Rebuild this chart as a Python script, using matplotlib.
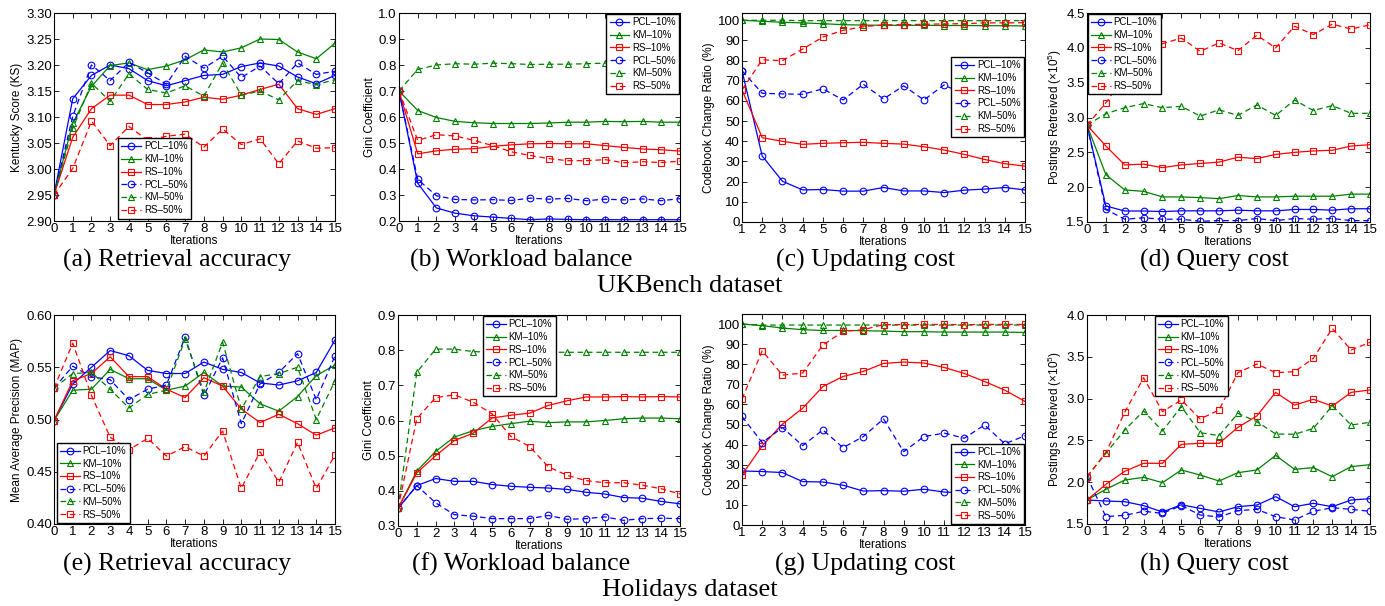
import matplotlib
matplotlib.use("Agg")
import matplotlib.pyplot as plt
import numpy as np
from matplotlib.ticker import FormatStrFormatter

plt.rcParams['font.family'] = ['Liberation Sans', 'DejaVu Sans']
plt.rcParams['mathtext.fontset'] = 'custom'
plt.rcParams['mathtext.rm'] = 'Liberation Sans'

# ---------------- data ----------------
iters = list(range(16))
iters_upd = list(range(1, 16))
series_names = ['PCL–10%', 'KM–10%', 'RS–10%', 'PCL–50%', 'KM–50%', 'RS–50%']

# (a) UKBench retrieval accuracy (Kentucky score)
a_pcl10 = [2.95, 3.135, 3.18, 3.20, 3.193, 3.17, 3.16, 3.17, 3.18, 3.182, 3.197, 3.204, 3.198, 3.177, 3.164, 3.18]
a_km10 = [2.95, 3.088, 3.159, 3.199, 3.204, 3.191, 3.198, 3.21, 3.229, 3.225, 3.233, 3.25, 3.249, 3.225, 3.212, 3.242]
a_rs10 = [2.95, 3.061, 3.116, 3.142, 3.142, 3.124, 3.124, 3.129, 3.138, 3.134, 3.142, 3.153, 3.163, 3.116, 3.105, 3.116]
a_pcl50 = [2.95, 3.101, 3.20, 3.17, 3.205, 3.185, 3.163, 3.217, 3.194, 3.217, 3.176, 3.198, 3.164, 3.204, 3.182, 3.188]
a_km50 = [2.95, 3.078, 3.165, 3.13, 3.183, 3.153, 3.146, 3.16, 3.14, 3.204, 3.142, 3.15, 3.133, 3.17, 3.162, 3.172]
a_rs50 = [2.95, 3.001, 3.092, 3.045, 3.082, 3.055, 3.063, 3.067, 3.042, 3.077, 3.047, 3.058, 3.01, 3.054, 3.04, 3.041]

# (b) UKBench workload balance (Gini)
b_pcl10 = [0.70, 0.345, 0.25, 0.23, 0.22, 0.215, 0.21, 0.205, 0.208, 0.206, 0.205, 0.205, 0.205, 0.205, 0.205, 0.205]
b_km10 = [0.70, 0.625, 0.598, 0.583, 0.578, 0.575, 0.575, 0.575, 0.577, 0.58, 0.58, 0.583, 0.582, 0.583, 0.58, 0.58]
b_rs10 = [0.70, 0.458, 0.47, 0.476, 0.478, 0.487, 0.493, 0.497, 0.498, 0.497, 0.497, 0.49, 0.483, 0.477, 0.474, 0.469]
b_pcl50 = [0.70, 0.36, 0.297, 0.283, 0.281, 0.282, 0.279, 0.288, 0.284, 0.287, 0.278, 0.284, 0.281, 0.285, 0.278, 0.286]
b_km50 = [0.70, 0.783, 0.80, 0.805, 0.803, 0.807, 0.805, 0.802, 0.803, 0.803, 0.805, 0.807, 0.806, 0.806, 0.805, 0.803]
b_rs50 = [0.70, 0.51, 0.532, 0.527, 0.51, 0.49, 0.466, 0.452, 0.44, 0.432, 0.432, 0.436, 0.424, 0.428, 0.425, 0.43]

# (c) UKBench updating cost (%), iterations 1..15
c_pcl10 = [75, 32.7, 20.2, 15.9, 16.1, 15.3, 15.3, 17.1, 15.4, 15.4, 14.6, 15.8, 16.3, 17.1, 15.9]
c_km10 = [100, 99.5, 99.0, 98.7, 98.3, 97.8, 97.6, 97.5, 97.5, 97.5, 97.4, 97.4, 97.3, 97.3, 97.2]
c_rs10 = [65.5, 41.8, 40.0, 38.5, 39.0, 39.3, 39.5, 39.0, 38.6, 37.3, 35.7, 33.5, 31.0, 28.9, 27.7]
c_pcl50 = [75, 63.8, 63.5, 63.3, 66.0, 60.5, 68.3, 61.0, 67.5, 60.5, 68.0, 63.0, 67.0, 62.0, 67.7]
c_km50 = [100, 100, 100, 99.8, 99.8, 99.8, 99.8, 99.8, 99.8, 99.8, 99.8, 99.8, 99.8, 99.8, 99.8]
c_rs50 = [65.5, 80.4, 80.0, 85.7, 91.7, 95.0, 96.8, 97.7, 97.8, 98.0, 98.2, 98.3, 98.7, 98.7, 98.8]

# (d) UKBench query cost (x1e5 postings)
d_pcl10 = [2.89, 1.73, 1.658, 1.658, 1.65, 1.66, 1.66, 1.66, 1.67, 1.66, 1.66, 1.68, 1.68, 1.67, 1.69, 1.69]
d_km10 = [2.89, 2.18, 1.96, 1.94, 1.86, 1.86, 1.85, 1.835, 1.88, 1.86, 1.86, 1.87, 1.87, 1.87, 1.90, 1.90]
d_rs10 = [2.89, 2.59, 2.32, 2.33, 2.28, 2.32, 2.34, 2.36, 2.43, 2.41, 2.47, 2.50, 2.52, 2.53, 2.59, 2.61]
d_pcl50 = [2.89, 1.68, 1.54, 1.56, 1.54, 1.54, 1.51, 1.52, 1.52, 1.55, 1.52, 1.55, 1.54, 1.55, 1.52, 1.52]
d_km50 = [2.89, 3.055, 3.14, 3.20, 3.14, 3.16, 3.02, 3.11, 3.03, 3.18, 3.03, 3.25, 3.10, 3.17, 3.06, 3.06]
d_rs50 = [2.89, 3.21, 3.60, 3.95, 4.06, 4.14, 3.95, 4.07, 3.96, 4.18, 4.00, 4.31, 4.19, 4.34, 4.27, 4.33]

# (e) Holidays retrieval accuracy (MAP)
e_pcl10 = [0.499, 0.534, 0.550, 0.566, 0.561, 0.547, 0.544, 0.544, 0.555, 0.548, 0.545, 0.535, 0.533, 0.537, 0.545, 0.576]
e_km10 = [0.499, 0.528, 0.529, 0.548, 0.539, 0.539, 0.528, 0.532, 0.545, 0.532, 0.531, 0.515, 0.508, 0.522, 0.542, 0.552]
e_rs10 = [0.499, 0.537, 0.544, 0.560, 0.541, 0.541, 0.529, 0.521, 0.540, 0.532, 0.510, 0.497, 0.505, 0.496, 0.485, 0.492]
e_pcl50 = [0.530, 0.551, 0.541, 0.538, 0.519, 0.529, 0.533, 0.579, 0.523, 0.559, 0.496, 0.534, 0.545, 0.563, 0.519, 0.561]
e_km50 = [0.530, 0.544, 0.545, 0.529, 0.511, 0.524, 0.528, 0.577, 0.526, 0.574, 0.510, 0.541, 0.544, 0.550, 0.500, 0.537]
e_rs50 = [0.530, 0.573, 0.523, 0.483, 0.471, 0.482, 0.465, 0.474, 0.465, 0.489, 0.434, 0.469, 0.440, 0.478, 0.434, 0.466]

# (f) Holidays workload balance (Gini)
f_pcl10 = [0.35, 0.415, 0.435, 0.427, 0.427, 0.418, 0.413, 0.410, 0.408, 0.404, 0.396, 0.391, 0.381, 0.379, 0.370, 0.363]
f_km10 = [0.35, 0.456, 0.512, 0.553, 0.571, 0.583, 0.591, 0.598, 0.594, 0.596, 0.596, 0.600, 0.605, 0.607, 0.607, 0.605]
f_rs10 = [0.35, 0.451, 0.500, 0.543, 0.564, 0.607, 0.615, 0.621, 0.643, 0.656, 0.667, 0.667, 0.668, 0.667, 0.668, 0.667]
f_pcl50 = [0.35, 0.415, 0.366, 0.332, 0.328, 0.321, 0.321, 0.321, 0.330, 0.319, 0.321, 0.326, 0.316, 0.321, 0.322, 0.321]
f_km50 = [0.35, 0.737, 0.803, 0.803, 0.796, 0.794, 0.794, 0.794, 0.794, 0.794, 0.794, 0.794, 0.794, 0.794, 0.794, 0.794]
f_rs50 = [0.35, 0.605, 0.665, 0.673, 0.652, 0.619, 0.555, 0.526, 0.468, 0.444, 0.429, 0.423, 0.423, 0.416, 0.406, 0.391]

# (g) Holidays updating cost (%), iterations 1..15
g_pcl10 = [26.9, 26.6, 26.1, 21.6, 21.4, 19.8, 16.9, 17.1, 16.8, 17.8, 16.4, 16.0, 16.5, 16.0, 15.4]
g_km10 = [100, 99.2, 98.0, 97.2, 96.8, 96.8, 96.7, 96.5, 96.2, 96.2, 96.0, 96.0, 96.0, 96.0, 95.8]
g_rs10 = [24.9, 39.4, 50.2, 58.1, 68.9, 73.9, 76.4, 80.4, 81.1, 80.6, 78.4, 75.4, 71.4, 67.1, 61.5]
g_pcl50 = [54.0, 41.0, 48.5, 39.5, 47.3, 38.5, 44.0, 52.8, 36.5, 44.0, 45.7, 43.2, 49.8, 40.4, 44.4]
g_km50 = [100, 99.5, 99.5, 99.5, 99.5, 99.5, 99.5, 99.5, 99.5, 99.5, 99.5, 99.5, 99.5, 99.5, 99.5]
g_rs50 = [62.6, 86.7, 74.6, 75.6, 89.5, 96.3, 97.2, 99.7, 99.7, 99.8, 99.8, 99.7, 99.8, 99.8, 99.8]

# (h) Holidays query cost (x1e5 postings)
h_pcl10 = [1.787, 1.775, 1.767, 1.72, 1.644, 1.73, 1.687, 1.644, 1.707, 1.727, 1.827, 1.707, 1.747, 1.707, 1.787, 1.803]
h_km10 = [1.787, 1.915, 2.026, 2.058, 1.994, 2.146, 2.086, 2.014, 2.114, 2.146, 2.321, 2.154, 2.174, 2.066, 2.186, 2.21]
h_rs10 = [1.787, 1.974, 2.13, 2.226, 2.226, 2.453, 2.465, 2.465, 2.656, 2.792, 3.075, 2.923, 2.991, 2.911, 3.075, 3.103]
h_pcl50 = [2.066, 1.588, 1.604, 1.652, 1.628, 1.72, 1.608, 1.584, 1.66, 1.675, 1.588, 1.548, 1.652, 1.695, 1.675, 1.652]
h_km50 = [2.066, 2.345, 2.624, 2.852, 2.612, 2.904, 2.592, 2.557, 2.824, 2.724, 2.577, 2.573, 2.644, 2.915, 2.684, 2.716]
h_rs50 = [2.066, 2.353, 2.836, 3.25, 2.844, 2.983, 2.756, 2.864, 3.31, 3.414, 3.31, 3.322, 3.482, 3.84, 3.581, 3.673]

captions = ['(a) Retrieval accuracy', '(b) Workload balance', '(c) Updating cost', '(d) Query cost',
            '(e) Retrieval accuracy', '(f) Workload balance', '(g) Updating cost', '(h) Query cost']
row_titles = ['UKBench dataset', 'Holidays dataset']
ylab_ks = 'Kentucky Score (KS)'
ylab_gini = 'Gini Coefficient'
ylab_upd = 'Codebook Change Ratio (%)'
ylab_post = r'Postings Retreived ($\mathregular{\times 10^5}$)'
ylab_map = 'Mean Average Precision (MAP)'

# ---------------- style ----------------
colors = ['#0000ff', '#008000', '#ff0000', '#0000ff', '#008000', '#ff0000']
markers = ['o', '^', 's', 'o', '^', 's']
styles = ['-', '-', '-', (0, (4.5, 3)), (0, (4.5, 3)), (0, (4.5, 3))]

W, H = 1385, 606
fig = plt.figure(figsize=(W / 100, H / 100), dpi=100)

def rect(x0, x1, y0, y1):
    return [x0 / W, 1 - y1 / H, (x1 - x0) / W, (y1 - y0) / H]

panels = [
    dict(r=rect(54, 335, 13, 221), x=iters, data=[a_pcl10, a_km10, a_rs10, a_pcl50, a_km50, a_rs50],
         ylim=(2.90, 3.30), yt=np.arange(2.90, 3.301, 0.05), fmt='%.2f', xlim=(0, 15), ylabel=ylab_ks,
         leg=dict(loc='lower left', bbox_to_anchor=(0.228, 0.012))),
    dict(r=rect(399, 680, 13, 221), x=iters, data=[b_pcl10, b_km10, b_rs10, b_pcl50, b_km50, b_rs50],
         ylim=(0.2, 1.0), yt=np.arange(0.2, 1.001, 0.1), fmt='%.1f', xlim=(0, 15), ylabel=ylab_gini,
         leg=dict(loc='upper right', bbox_to_anchor=(0.997, 0.995))),
    dict(r=rect(742, 1025, 13, 222), x=iters_upd, data=[c_pcl10, c_km10, c_rs10, c_pcl50, c_km50, c_rs50],
         ylim=(0, 103.6), yt=np.arange(0, 101, 10), fmt='%d', xlim=(1, 15), ylabel=ylab_upd,
         leg=dict(loc='upper right', bbox_to_anchor=(0.997, 0.79))),
    dict(r=rect(1087, 1370, 13, 222), x=iters, data=[d_pcl10, d_km10, d_rs10, d_pcl50, d_km50, d_rs50],
         ylim=(1.5, 4.5), yt=np.arange(1.5, 4.501, 0.5), fmt='%.1f', xlim=(0, 15), ylabel=ylab_post,
         leg=dict(loc='upper left', bbox_to_anchor=(0.003, 0.995))),
    dict(r=rect(54, 335, 315, 524), x=iters, data=[e_pcl10, e_km10, e_rs10, e_pcl50, e_km50, e_rs50],
         ylim=(0.40, 0.60), yt=np.arange(0.40, 0.601, 0.05), fmt='%.2f', xlim=(0, 15), ylabel=ylab_map,
         leg=dict(loc='lower left', bbox_to_anchor=(0.01, 0.005))),
    dict(r=rect(398, 680, 315, 526), x=iters, data=[f_pcl10, f_km10, f_rs10, f_pcl50, f_km50, f_rs50],
         ylim=(0.3, 0.9), yt=np.arange(0.3, 0.901, 0.1), fmt='%.1f', xlim=(0, 15), ylabel=ylab_gini,
         leg=dict(loc='upper center', bbox_to_anchor=(0.43, 0.995))),
    dict(r=rect(742, 1025, 314, 525), x=iters_upd, data=[g_pcl10, g_km10, g_rs10, g_pcl50, g_km50, g_rs50],
         ylim=(0, 105), yt=np.arange(0, 101, 10), fmt='%d', xlim=(1, 15), ylabel=ylab_upd,
         leg=dict(loc='lower right', bbox_to_anchor=(0.997, 0.005))),
    dict(r=rect(1087, 1370, 315, 524), x=iters, data=[h_pcl10, h_km10, h_rs10, h_pcl50, h_km50, h_rs50],
         ylim=(1.5, 4.0), yt=np.arange(1.5, 4.001, 0.5), fmt='%.1f', xlim=(0, 15), ylabel=ylab_post,
         leg=dict(loc='upper left', bbox_to_anchor=(0.24, 0.995))),
]

cap_x = [177, 521, 865, 1214, 177, 521, 865, 1214]
cap_y = [260, 260, 260, 260, 564, 564, 564, 564]

for i, p in enumerate(panels):
    ax = fig.add_axes(p['r'])
    for k in range(6):
        ax.plot(p['x'], p['data'][k], color=colors[k], linestyle=styles[k], marker=markers[k],
                markersize=4.8, markerfacecolor='none', markeredgewidth=0.8, linewidth=0.9,
                label=series_names[k])
    ax.set_xlim(*p['xlim'])
    ax.set_ylim(*p['ylim'])
    ax.set_xticks(p['x'])
    ax.set_yticks(p['yt'])
    ax.yaxis.set_major_formatter(FormatStrFormatter(p['fmt']))
    ax.tick_params(direction='in', top=True, right=True, length=3.5, width=0.6,
                   labelsize=9.5, pad=1.5)
    for s in ax.spines.values():
        s.set_linewidth(0.8)
    ax.set_xlabel('Iterations', fontsize=8.5, labelpad=0)
    ax.set_ylabel(p['ylabel'], fontsize=8.5, labelpad=2)
    leg = ax.legend(fontsize=7, frameon=True, fancybox=False, edgecolor='black',
                    framealpha=1, handlelength=2.0, handletextpad=0.3, labelspacing=0.28,
                    borderpad=0.35, borderaxespad=0, **p['leg'])
    leg.get_frame().set_linewidth(1.0)
    fig.text(cap_x[i] / W, 1 - cap_y[i] / H, captions[i], ha='center', va='center',
             family='Liberation Serif', fontsize=18.5)

fig.text(690 / W, 1 - 286 / H, row_titles[0], ha='center', va='center',
         family='Liberation Serif', fontsize=19)
fig.text(690 / W, 1 - 590 / H, row_titles[1], ha='center', va='center',
         family='Liberation Serif', fontsize=19)

fig.savefig('out.png', dpi=100)
